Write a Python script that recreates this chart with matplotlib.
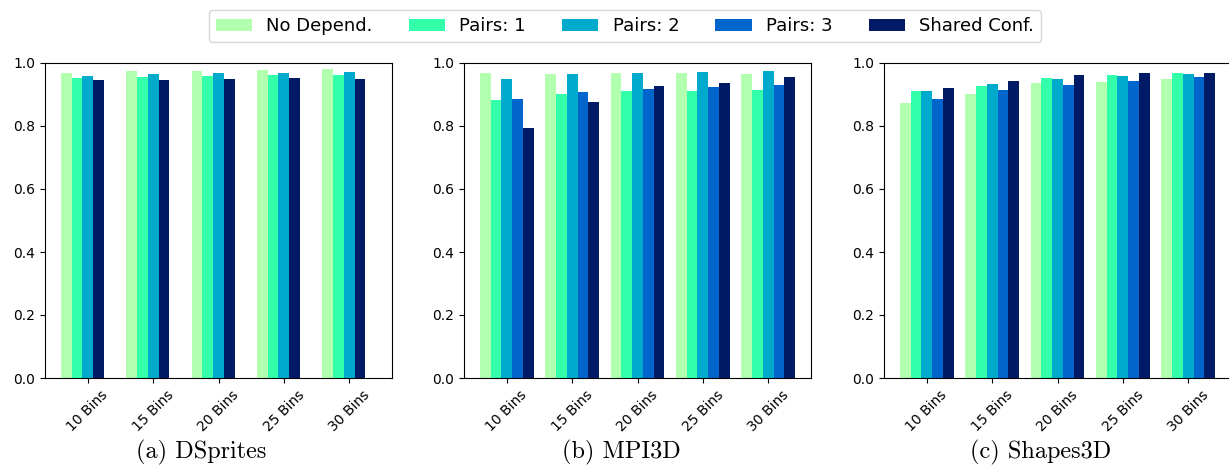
import numpy as np
import matplotlib
matplotlib.use("Agg")
import matplotlib.pyplot as plt

### donnees ###

bins = ["10 Bins", "15 Bins", "20 Bins", "25 Bins", "30 Bins"]
series = ["No Depend.", "Pairs: 1", "Pairs: 2", "Pairs: 3", "Shared Conf."]
colors = ["#b3ffb0", "#33ffaa", "#00aacc", "#0066cc", "#001a66"]

# DSprites : pas de barre "Pairs: 3"
dsprites = {
    "No Depend.": [0.967, 0.974, 0.974, 0.977, 0.980],
    "Pairs: 1": [0.952, 0.955, 0.958, 0.961, 0.961],
    "Pairs: 2": [0.958, 0.964, 0.967, 0.967, 0.971],
    "Shared Conf.": [0.945, 0.945, 0.948, 0.952, 0.948],
}
mpi3d = {
    "No Depend.": [0.967, 0.964, 0.967, 0.967, 0.964],
    "Pairs: 1": [0.882, 0.901, 0.910, 0.910, 0.913],
    "Pairs: 2": [0.948, 0.964, 0.967, 0.971, 0.974],
    "Pairs: 3": [0.885, 0.907, 0.917, 0.923, 0.929],
    "Shared Conf.": [0.793, 0.875, 0.926, 0.936, 0.955],
}
shapes3d = {
    "No Depend.": [0.872, 0.901, 0.936, 0.939, 0.948],
    "Pairs: 1": [0.910, 0.926, 0.952, 0.961, 0.967],
    "Pairs: 2": [0.910, 0.932, 0.948, 0.958, 0.964],
    "Pairs: 3": [0.885, 0.913, 0.929, 0.942, 0.955],
    "Shared Conf.": [0.920, 0.942, 0.961, 0.967, 0.967],
}

panels = [(dsprites, "(a) DSprites", 201), (mpi3d, "(b) MPI3D", 621), (shapes3d, "(c) Shapes3D", 1041)]

### trace ###

W, H = 1229, 470
fig = plt.figure(figsize=(W / 100, H / 100), dpi=100)
lefts = [45, 464, 884]
w = 0.165
x = np.arange(len(bins))

handles = {}
for left, (data, caption, cx) in zip(lefts, panels):
    ax = fig.add_axes([left / W, 92 / H, 347 / W, 315 / H])
    for k, name in enumerate(data):
        b = ax.bar(x + (k - 2) * w, data[name], w, color=colors[series.index(name)], label=name)
        handles[name] = b
    ax.set_xticks(x)
    ax.set_xticklabels(bins, rotation=45)
    ax.set_ylim(0, 1.0)
    ax.set_yticks(np.arange(0, 1.01, 0.2))
    ax.set_xlim(-2.5 * w - 0.05 * (4 + 5 * w), 4 + 2.5 * w + 0.05 * (4 + 5 * w))
    # legende de sous-figure (style LaTeX)
    fig.text(cx / W, 1 - 452 / H, caption, ha="center", va="center", fontsize=17.5, family="cmr10")

fig.legend([handles[s] for s in series], series, ncol=5, loc="upper center",
           bbox_to_anchor=(625 / W, 1 - 1 / H), fontsize=13)

fig.savefig("out.png", dpi=100)
